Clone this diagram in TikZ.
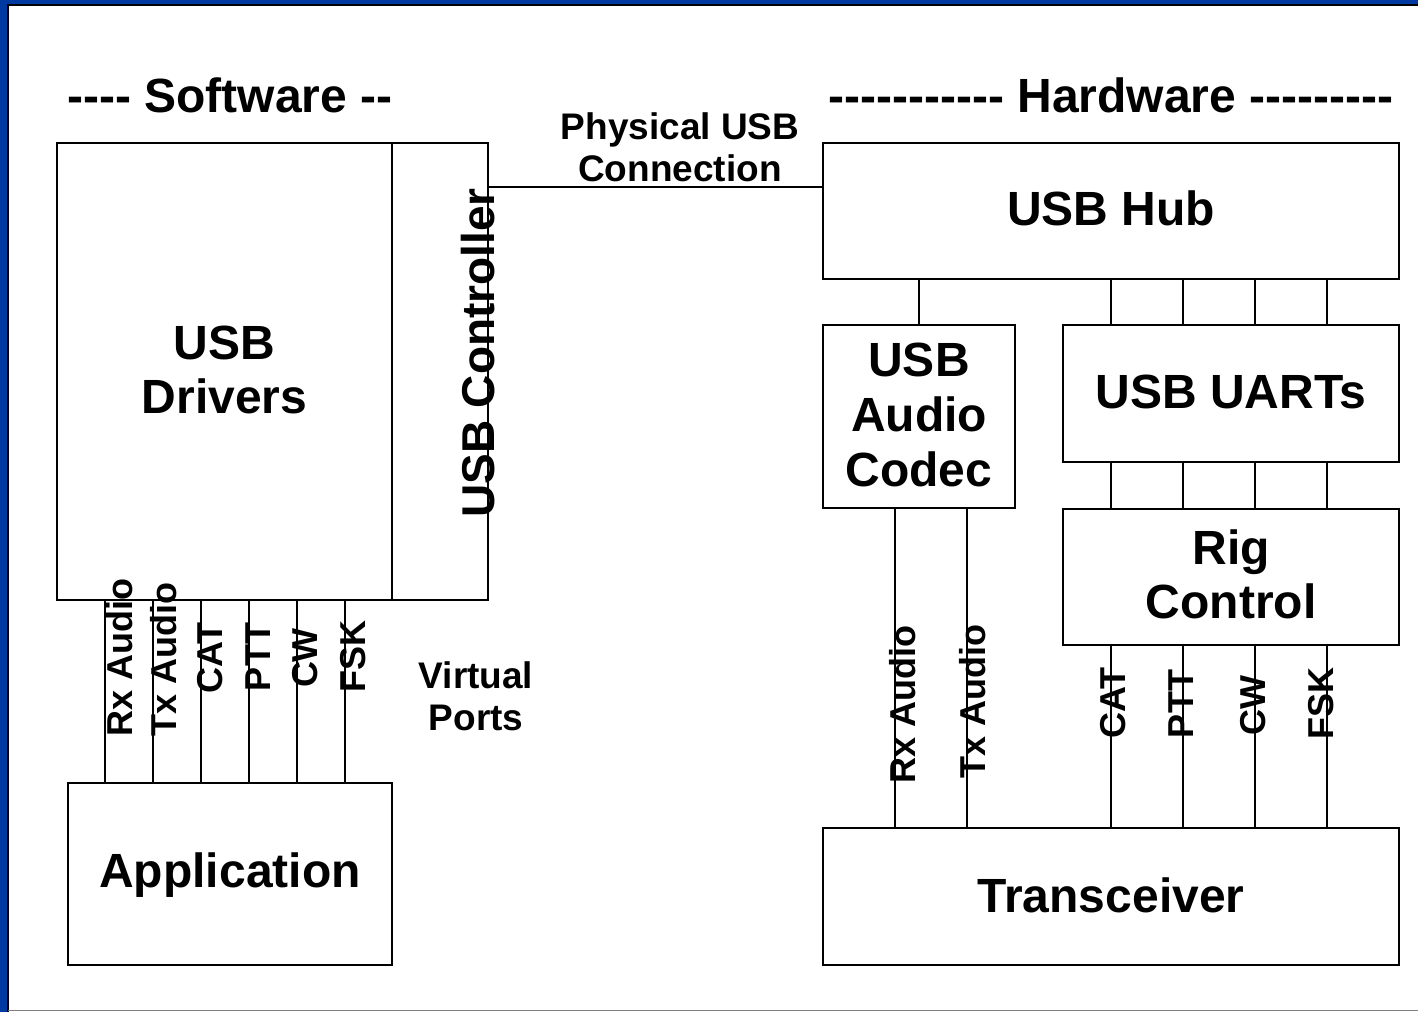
\documentclass[tikz,border=0pt]{standalone}
\usepackage{fontspec}
\setmainfont{Liberation Sans}[Ligatures=TeXOff]
\definecolor{frameblue}{RGB}{0,58,160}
\begin{document}
\begin{tikzpicture}[x=1pt,y=-1pt,
  box/.style={draw, line width=2pt, inner sep=0pt, outer sep=0pt},
  wire/.style={line width=2pt},
  big/.style={font=\bfseries\fontsize{48}{48}\selectfont, anchor=base, inner sep=0pt},
  head/.style={font=\bfseries\fontsize{48}{48}\selectfont, anchor=base, inner sep=0pt},
  vert/.style={font=\bfseries\fontsize{46}{46}\selectfont, anchor=base, inner sep=0pt, rotate=90},
  small/.style={font=\bfseries\fontsize{37}{37}\selectfont, anchor=base, inner sep=0pt},
  port/.style={font=\bfseries\fontsize{36}{36}\selectfont, anchor=base, inner sep=0pt, rotate=90}]
\useasboundingbox (0,0) rectangle (1418,1012);
\fill[white] (0,0) rectangle (1418,1012);
% frame
\fill[frameblue] (0,0) rectangle (1418,4.3);
\fill[frameblue] (0,0) rectangle (7.3,1012);
\draw[line width=1.6pt] (8,1012) -- (8,5.2) -- (1418,5.2);
\draw[gray, line width=1pt] (8,1010.5) -- (1418,1010.5);
% headers
\node[head] (hsw) at (230,112) {---- Software --};
\node[head] (hhw) at (1111,112) {----------- Hardware ---------};
% boxes
\node[box, minimum width=335pt, minimum height=457pt] (drv) at (224.5,371.5) {};
\node[box, minimum width=96pt, minimum height=457pt] (ctl) at (440,371.5) {};
\node[box, minimum width=324pt, minimum height=182pt] (app) at (230,874) {};
\node[box, minimum width=576pt, minimum height=136pt] (hub) at (1111,211) {};
\node[box, minimum width=192pt, minimum height=183pt] (codec) at (919,416.5) {};
\node[box, minimum width=336pt, minimum height=137pt] (uart) at (1231,393.5) {};
\node[box, minimum width=336pt, minimum height=136pt] (rig) at (1231,577) {};
\node[box, minimum width=576pt, minimum height=137pt] (trx) at (1111,896.5) {};
% box texts
\node[big] (tdrv1) at (224.5,359) {USB};
\node[big] (tdrv2) at (224.5,413) {Drivers};
\node[big] (tapp) at (230,887) {Application};
\node[big] (thub) at (1111,225) {USB Hub};
\node[big] (tcod1) at (919,376) {USB};
\node[big] (tcod2) at (919,431) {Audio};
\node[big] (tcod3) at (919,486) {Codec};
\node[big] (tuart) at (1231,408) {USB UARTs};
\node[big] (trig1) at (1231,564) {Rig};
\node[big] (trig2) at (1231,618) {Control};
\node[big] (ttrx) at (1111,912) {Transceiver};
\node[vert] (tctl) at (494,353) {USB Controller};
% physical connection
\draw[wire] (ctl.east |- 0,187) -- (hub.west |- 0,187);
\node[small] (tphy1) at (680,139) {Physical USB};
\node[small] (tphy2) at (680,181) {Connection};
\node[small] (tvp1) at (476,688) {Virtual};
\node[small] (tvp2) at (476,730) {Ports};
% left virtual port wires
\foreach \x in {105,153,201,249,297,345}
  \draw[wire] (\x,0 |- drv.south) -- (\x,0 |- app.north);
\node[port] (lrx) at (132,657) {Rx Audio};
\node[port] (ltx) at (176,659) {Tx Audio};
\node[port] (lcat) at (222,658) {CAT};
\node[port] (lptt) at (270,657) {PTT};
\node[port] (lcw) at (317,658) {CW};
\node[port] (lfsk) at (365,656) {FSK};
% hardware wires
\draw[wire] (919,0 |- hub.south) -- (919,0 |- codec.north);
\foreach \x in {1111,1183,1255,1327}{
  \draw[wire] (\x,0 |- hub.south) -- (\x,0 |- uart.north);
  \draw[wire] (\x,0 |- uart.south) -- (\x,0 |- rig.north);
  \draw[wire] (\x,0 |- rig.south) -- (\x,0 |- trx.north);
}
\foreach \x in {895,967}
  \draw[wire] (\x,0 |- codec.south) -- (\x,0 |- trx.north);
\node[port] (rrx) at (915,704) {Rx Audio};
\node[port] (rtx) at (985,701) {Tx Audio};
\node[port] (rcat) at (1125,703) {CAT};
\node[port] (rptt) at (1193,704) {PTT};
\node[port] (rcw) at (1265,705) {CW};
\node[port] (rfsk) at (1333,703) {FSK};
\end{tikzpicture}
\end{document}
